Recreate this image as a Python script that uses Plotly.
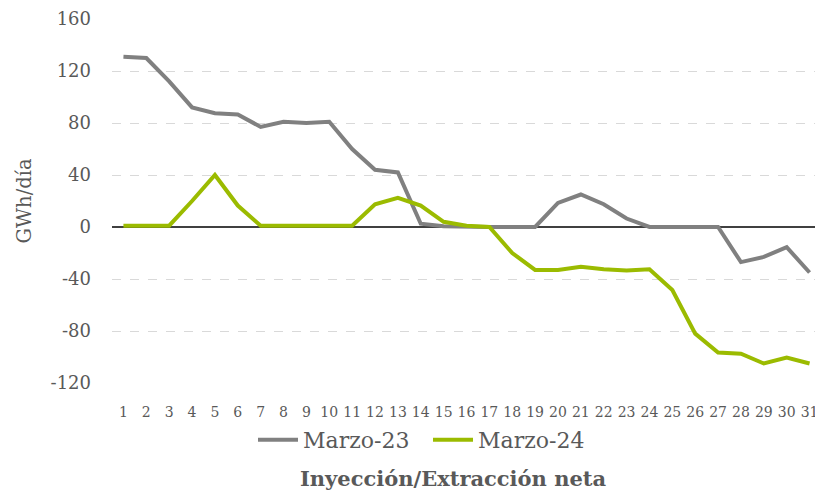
import plotly.graph_objects as go

days = [str(d) for d in range(1, 32)]
marzo_23 = [131, 130, 112, 92, 87.5, 86.5, 77, 81, 80, 81, 60, 44, 42, 2.5, 0.5,
            0, 0, 0, 0, 18.5, 25, 17.5, 6.5, 0, 0, 0, 0, -27, -23, -15.5, -35]
marzo_24 = [1, 1, 1, 20, 40, 16.5, 1, 1, 1, 1, 1, 17.5, 22.5, 16.5, 4,
            1, 0, -20, -33, -33, -30.5, -32.5, -33.5, -32.5, -48.5, -82, -96.5, -97.5, -105, -100.5, -105]
y_ticks = [-120, -80, -40, 0, 40, 80, 120, 160]
y_labels = [str(v) for v in y_ticks]

FONT = "DejaVu Serif"
TXT = "#595959"

# page body has an 8px default margin -> figure occupies 815x482 starting at (8, 8)
W, H = 815, 482

fig = go.Figure()
fig.add_trace(go.Scatter(x=days, y=marzo_23, mode="lines", name="Marzo-23",
                         line=dict(color="#808080", width=4)))
fig.add_trace(go.Scatter(x=days, y=marzo_24, mode="lines", name="Marzo-24",
                         line=dict(color="#9BBB00", width=4)))

fig.update_layout(
    width=W, height=H,
    margin=dict(l=104, r=2, t=11, b=107, autoexpand=False),
    paper_bgcolor="white", plot_bgcolor="white",
    font=dict(family=FONT, color=TXT),
    showlegend=True,
    legend=dict(orientation="h", x=(428 - 8) / W, xanchor="center", xref="container",
                y=1 - (440 - 8) / H, yanchor="middle", yref="container",
                font=dict(size=22, color=TXT), itemwidth=40, entrywidth=120,
                traceorder="normal"),
    xaxis=dict(type="category", range=[-0.5, 30.5], showgrid=False, showline=False,
               ticks="", automargin=False,
               tickfont=dict(size=14, color=TXT), tickangle=0, ticklabelstandoff=19),
    yaxis=dict(range=[-120, 160], tickvals=y_ticks, ticktext=y_labels, showgrid=True,
               gridcolor="#D9D9D9", griddash="dash", gridwidth=1, automargin=False,
               zeroline=True, zerolinecolor="#404040", zerolinewidth=2,
               tickfont=dict(size=18, color=TXT), ticks="", ticklabelstandoff=20,
               title=dict(text="GWh/día", font=dict(size=19.5, color=TXT), standoff=13)),
    annotations=[dict(text="<b>Inyección/Extracción neta</b>",
                      x=(453.5 - 112) / 709, xref="paper",
                      y=(383 - 478) / 364, yref="paper", yanchor="middle", showarrow=False,
                      font=dict(size=21, color=TXT))],
)

fig.write_html("out.html")
